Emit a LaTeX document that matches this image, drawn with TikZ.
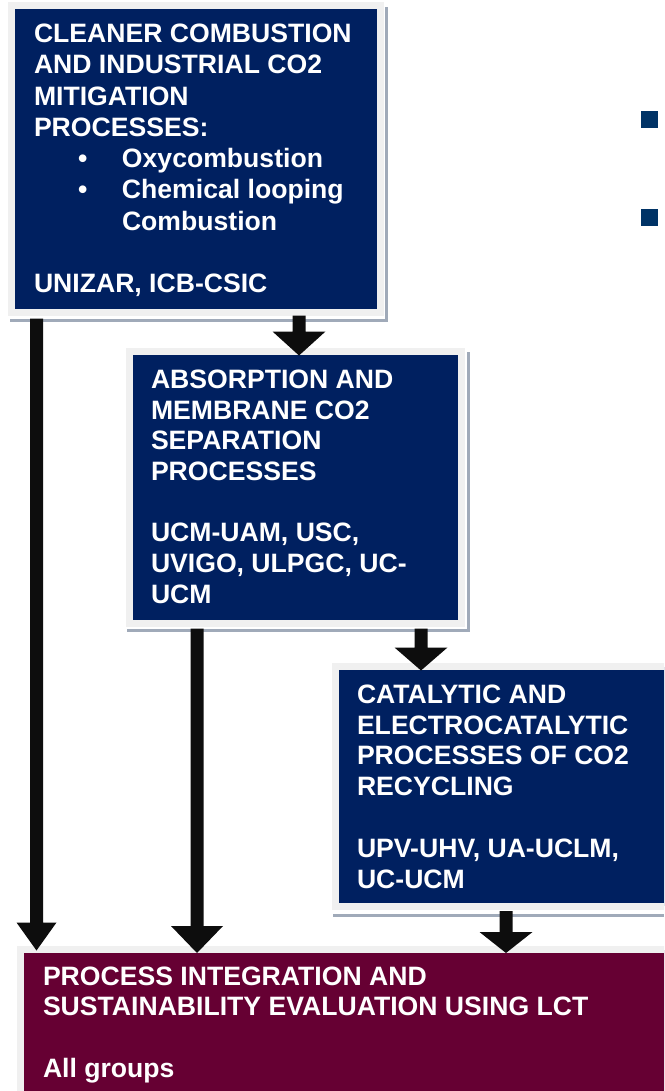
\documentclass[tikz,border=0pt]{standalone}
\usepackage{fontspec}
\setmainfont{Liberation Sans}
\usetikzlibrary{calc}
\definecolor{navy}{RGB}{0,32,96}
\definecolor{maroonbox}{RGB}{102,0,51}
\definecolor{edgegray}{RGB}{240,240,240}
\definecolor{shadowgray}{RGB}{160,170,185}
\definecolor{arrowcol}{RGB}{13,13,13}
\definecolor{bulletblue}{RGB}{0,51,102}
% #1 start, #2 tip, #3 half head width, #4 head length
\newcommand{\dnarrow}[4]{%
  \fill[arrowcol] let \p1=#1, \p2=#2 in
    (\x1-6.5pt,\y1) -- (\x1+6.5pt,\y1) -- (\x1+6.5pt,\y2+#4) -- (\x1+#3,\y2+#4)
    -- (\x1,\y2) -- (\x1-#3,\y2+#4) -- (\x1-6.5pt,\y2+#4) -- cycle;}
\begin{document}
\begin{tikzpicture}[x=1pt,y=-1pt,
  boxnode/.style={draw=edgegray, line width=7pt, inner sep=0pt, outer sep=0pt, anchor=north west},
  boxtext/.style={anchor=base west, inner sep=0pt, outer sep=0pt, text=white},
  shadowline/.style={draw=shadowgray, line width=3pt},
  sqbullet/.style={fill=bulletblue, minimum width=17pt, minimum height=17pt, inner sep=0pt, anchor=north west},
]
\useasboundingbox (0,0) rectangle (664,1091);
\clip (0,0) rectangle (664,1091);
\fill[white] (0,0) rectangle (664,1091);

% boxes
\node[boxnode, fill=navy, minimum width=368.5pt, minimum height=306.5pt] (b1) at (11.5,6) {};
\node[boxnode, fill=navy, minimum width=332.5pt, minimum height=272pt] (b2) at (129,351.5) {};
\node[boxnode, fill=navy, minimum width=400pt, minimum height=239.5pt] (b3) at (335,666.5) {};
\node[boxnode, fill=maroonbox, minimum width=700pt, minimum height=200pt] (b4) at (20.5,949.5) {};

% shadows
\draw[shadowline] (10,320) -- (386,320) -- (386,7);
\draw[shadowline] (127,630) -- (468,630) -- (468,352);
\draw[shadowline] (333,915) -- (664,915);

% texts
\node[boxtext] (t1) at (34,42.7) {\parbox[t]{340pt}{\fontsize{26.6pt}{31.25pt}\selectfont\bfseries
CLEANER COMBUSTION\\AND INDUSTRIAL CO2\\MITIGATION\\PROCESSES:\\
\hspace*{44pt}\makebox[44pt][l]{•}Oxycombustion\\
\hspace*{44pt}\makebox[44pt][l]{•}Chemical looping\\
\hspace*{88pt}Combustion\\
\mbox{}\\
UNIZAR, ICB-CSIC}};
\node[boxtext] (t2) at (151,388.3) {\parbox[t]{300pt}{\fontsize{26.6pt}{30.7pt}\selectfont\bfseries
ABSORPTION AND\\MEMBRANE CO2\\SEPARATION\\PROCESSES\\
\mbox{}\\
UCM-UAM, USC,\\UVIGO, ULPGC, UC-\\UCM}};
\node[boxtext] (t3) at (357,703.3) {\parbox[t]{300pt}{\fontsize{26.6pt}{30.8pt}\selectfont\bfseries
CATALYTIC AND\\ELECTROCATALYTIC\\PROCESSES OF CO2\\RECYCLING\\
\mbox{}\\
UPV-UHV, UA-UCLM,\\UC-UCM}};
\node[boxtext] (t4) at (43,985) {\parbox[t]{600pt}{\fontsize{26.6pt}{30.7pt}\selectfont\bfseries
PROCESS INTEGRATION AND\\SUSTAINABILITY EVALUATION USING LCT\\
\mbox{}\\
All groups}};

% square bullets at right
\node[sqbullet] (s1) at (641,111) {};
\node[sqbullet] (s2) at (641,209) {};

% arrows
\dnarrow{($(299,0 |- b1.south)+(0,3)$)}{($(299,0 |- b2.north)+(0,4)$)}{26.5pt}{24pt}
\dnarrow{($(36.5,0 |- b1.south)+(0,6)$)}{($(36.5,0 |- b4.north)+(0,1)$)}{20pt}{28pt}
\dnarrow{($(197,0 |- b2.south)+(0,5)$)}{($(197,0 |- b4.north)+(0,3.5)$)}{26pt}{27pt}
\dnarrow{($(421,0 |- b2.south)+(0,5)$)}{($(421,0 |- b3.north)+(0,4)$)}{26.5pt}{23pt}
\dnarrow{($(506,0 |- b3.south)+(0,5)$)}{($(506,0 |- b4.north)+(0,3.5)$)}{26.5pt}{21pt}
\end{tikzpicture}
\end{document}
